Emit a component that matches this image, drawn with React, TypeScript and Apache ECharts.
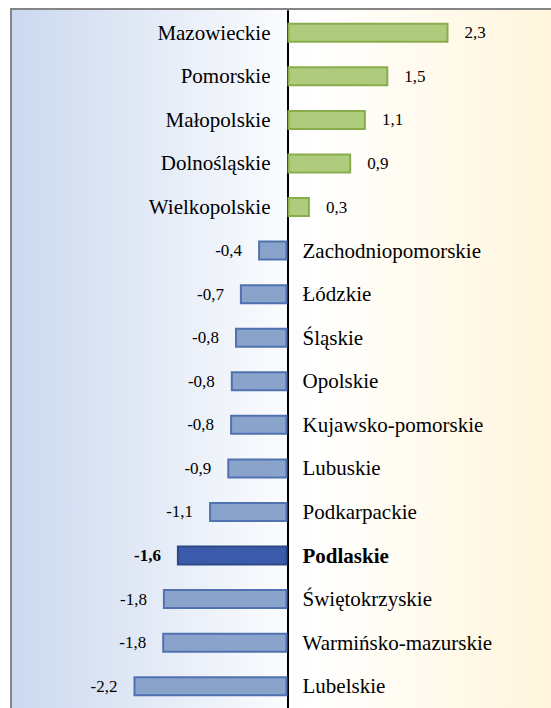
import React, { useEffect, useRef } from "react";
import * as echarts from "echarts";

const categories = [
  "Mazowieckie",
  "Pomorskie",
  "Małopolskie",
  "Dolnośląskie",
  "Wielkopolskie",
  "Zachodniopomorskie",
  "Łódzkie",
  "Śląskie",
  "Opolskie",
  "Kujawsko-pomorskie",
  "Lubuskie",
  "Podkarpackie",
  "Podlaskie",
  "Świętokrzyskie",
  "Warmińsko-mazurskie",
  "Lubelskie",
];

// bar lengths
const values = [2.3, 1.44, 1.12, 0.91, 0.32, -0.42, -0.68, -0.75, -0.81, -0.82, -0.86, -1.12, -1.58, -1.78, -1.79, -2.2];

// value labels as printed
const valueLabels = ["2,3", "1,5", "1,1", "0,9", "0,3", "-0,4", "-0,7", "-0,8", "-0,8", "-0,8", "-0,9", "-1,1", "-1,6", "-1,8", "-1,8", "-2,2"];

const highlight = "Podlaskie";

const FONT = "'Liberation Serif', 'Times New Roman', serif";

export default function App() {
  const ref = useRef<HTMLDivElement>(null);
  useEffect(() => {
    if (!ref.current) return;
    const chart = echarts.init(ref.current, null, { renderer: "svg" });
    const barData = values.map((v, i) => {
      const hl = categories[i] === highlight;
      return {
        value: v,
        itemStyle: hl
          ? { color: "#3b5aa9", borderColor: "#2d4a86", borderWidth: 2 }
          : v >= 0
          ? { color: "#aecb7e", borderColor: "#8aad4c", borderWidth: 2 }
          : { color: "#8aa3cb", borderColor: "#5072b0", borderWidth: 2 },
      };
    });
    chart.setOption({
      animation: false,
      graphic: [
        {
          type: "rect",
          z: -10,
          silent: true,
          shape: { x: 11, y: 9, width: 600, height: 760 },
          style: {
            fill: new echarts.graphic.LinearGradient(0, 0, 1, 0, [
              { offset: 0, color: "#cbd8ef" },
              { offset: 0.5, color: "#ffffff" },
              { offset: 1, color: "#fff3d2" },
            ]),
            stroke: "#858585",
            lineWidth: 2,
          },
        },
      ],
      grid: { left: 42.5, right: 18.5, top: 11, height: 701.3, containLabel: false },
      xAxis: {
        type: "value",
        min: -3.5,
        max: 3.5,
        show: false,
      },
      yAxis: {
        type: "category",
        data: categories,
        inverse: true,
        axisLine: { show: true, onZero: true, lineStyle: { color: "#000", width: 2 } },
        axisTick: { show: false },
        axisLabel: { show: false },
        splitLine: { show: false },
      },
      series: [
        {
          type: "bar",
          data: barData,
          barWidth: 20,
          z: 2,
        },
        {
          type: "custom",
          z: 3,
          data: values.map((v, i) => [v, i]),
          clip: false,
          renderItem: (params: any, api: any) => {
            const v = api.value(0);
            const i = api.value(1);
            const p0 = api.coord([0, i]);
            const p1 = api.coord([v, i]);
            const bold = categories[i] === highlight;
            const pos = v >= 0;
            return {
              type: "group",
              children: [
                {
                  type: "text",
                  x: p0[0] + (pos ? -17 : 15),
                  y: p0[1],
                  style: {
                    text: categories[i],
                    align: pos ? "right" : "left",
                    verticalAlign: "middle",
                    fontFamily: FONT,
                    fontSize: 21,
                    fontWeight: bold ? "bold" : "normal",
                    fill: "#000",
                  },
                },
                {
                  type: "text",
                  x: p1[0] + (pos ? 16 : -16),
                  y: p1[1],
                  style: {
                    text: valueLabels[i],
                    align: pos ? "left" : "right",
                    verticalAlign: "middle",
                    fontFamily: FONT,
                    fontSize: 17,
                    fontWeight: bold ? "bold" : "normal",
                    fill: "#000",
                  },
                },
              ],
            };
          },
        },
      ],
    });
    return () => chart.dispose();
  }, []);
  return (
    <div
      ref={ref}
      style={{ position: "absolute", left: 0, top: 0, width: 551, height: 708 }}
    />
  );
}
